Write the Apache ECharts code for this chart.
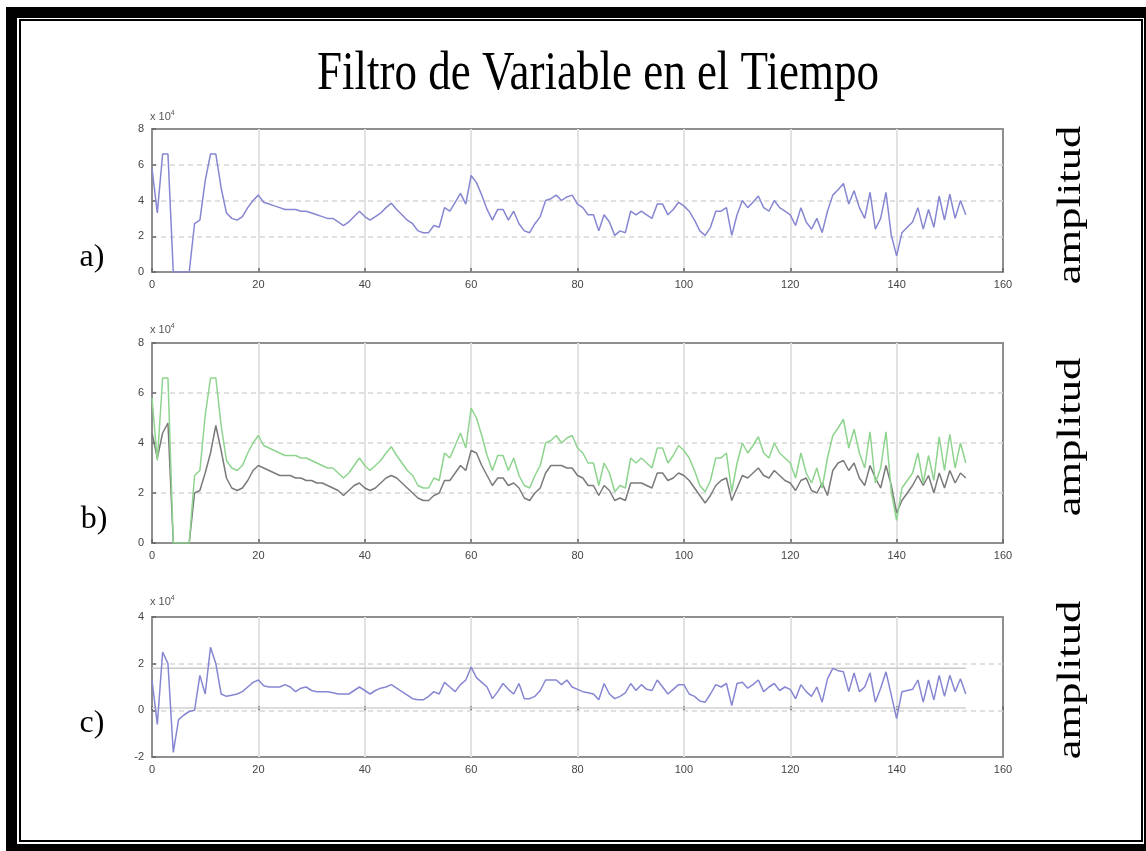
<!DOCTYPE html>
<html>
<head>
<meta charset="utf-8">
<title>Filtro de Variable en el Tiempo</title>
<script src="https://cdn.jsdelivr.net/npm/echarts@6/dist/echarts.min.js"></script>
<style>
  html, body { margin: 0; padding: 0; background: #fff; }
  #main { width: 1146px; height: 851px; }
</style>
</head>
<body>
<div id="main"></div>
<script>
// muestras (x = 0..153), amplitud en unidades de 10^4
var senalA = [
  5.8, 3.3, 6.6, 6.6, 0, 0, 0, 0, 2.7, 2.9,
  5.1, 6.6, 6.6, 4.7, 3.3, 3.0, 2.9, 3.1, 3.6, 4.0,
  4.3, 3.9, 3.8, 3.7, 3.6, 3.5, 3.5, 3.5, 3.4, 3.4,
  3.3, 3.2, 3.1, 3.0, 3.0, 2.8, 2.6, 2.8, 3.1, 3.4,
  3.1, 2.9, 3.1, 3.3, 3.6, 3.85, 3.5, 3.2, 2.9, 2.7,
  2.3, 2.2, 2.2, 2.6, 2.5, 3.6, 3.4, 3.9, 4.4, 3.8,
  5.4, 5.0, 4.3, 3.5, 2.9, 3.5, 3.5, 2.9, 3.4, 2.7,
  2.3, 2.2, 2.7, 3.1, 4.0, 4.1, 4.3, 4.0, 4.2, 4.3,
  3.8, 3.6, 3.2, 3.2, 2.3, 3.2, 2.8, 2.05, 2.3, 2.2,
  3.4, 3.2, 3.4, 3.2, 3.0, 3.8, 3.8, 3.2, 3.5, 3.9,
  3.7, 3.4, 2.9, 2.3, 2.05, 2.5, 3.4, 3.4, 3.6, 2.05,
  3.2, 4.0, 3.6, 3.9, 4.25, 3.6, 3.4, 4.0, 3.6, 3.4,
  3.2, 2.6, 3.6, 2.8, 2.4, 3.0, 2.2, 3.4, 4.3, 4.6,
  4.95, 3.8, 4.55, 3.6, 3.0, 4.45, 2.4, 3.0, 4.45, 2.05,
  0.9, 2.2, 2.5, 2.8, 3.6, 2.4, 3.5, 2.5, 4.25, 2.9,
  4.35, 3.0, 4.0, 3.2
];

var senalFiltrada = [
  4.4, 3.4, 4.4, 4.8, 0, 0, 0, 0, 2.0, 2.1,
  2.8, 3.6, 4.7, 3.7, 2.6, 2.2, 2.1, 2.2, 2.5, 2.9,
  3.1, 3.0, 2.9, 2.8, 2.7, 2.7, 2.7, 2.6, 2.6, 2.5,
  2.5, 2.4, 2.4, 2.3, 2.2, 2.1, 1.9, 2.1, 2.3, 2.4,
  2.2, 2.1, 2.2, 2.4, 2.6, 2.7, 2.6, 2.4, 2.2, 2.0,
  1.8, 1.7, 1.7, 1.9, 2.0, 2.5, 2.5, 2.8, 3.1, 2.9,
  3.7, 3.6, 3.1, 2.7, 2.3, 2.6, 2.6, 2.3, 2.4, 2.2,
  1.8, 1.7, 2.0, 2.2, 2.8, 3.1, 3.1, 3.1, 3.0, 3.0,
  2.7, 2.6, 2.3, 2.3, 1.9, 2.3, 2.1, 1.7, 1.8, 1.7,
  2.4, 2.4, 2.4, 2.3, 2.2, 2.8, 2.8, 2.5, 2.6, 2.8,
  2.7, 2.5, 2.2, 1.9, 1.6, 1.9, 2.3, 2.5, 2.6, 1.7,
  2.2, 2.7, 2.6, 2.8, 3.0, 2.7, 2.6, 2.9, 2.7, 2.5,
  2.4, 2.1, 2.5, 2.6, 2.1, 2.0, 2.4, 1.9, 2.9, 3.2,
  3.3, 2.9, 3.2, 2.6, 2.3, 3.1, 2.6, 2.2, 3.1, 2.3,
  1.2, 1.7, 2.0, 2.3, 2.7, 2.3, 2.7, 2.0, 2.8, 2.2,
  2.9, 2.4, 2.8, 2.6
];

var senalC = [
  1.3, -0.6, 2.5, 2.0, -1.8, -0.4, -0.2, -0.05, 0.0, 1.5,
  0.7, 2.7, 2.0, 0.7, 0.6, 0.65, 0.7, 0.8, 1.0, 1.2,
  1.3, 1.05, 1.0, 1.0, 1.0, 1.1, 1.0, 0.8, 0.95, 1.0,
  0.85, 0.8, 0.8, 0.8, 0.75, 0.7, 0.7, 0.7, 0.85, 1.0,
  0.85, 0.7, 0.85, 0.95, 1.0, 1.1, 0.95, 0.8, 0.65, 0.5,
  0.45, 0.45, 0.6, 0.8, 0.7, 1.2, 1.0, 0.8, 1.1, 1.3,
  1.85, 1.4, 1.2, 1.0, 0.5, 0.8, 1.15, 0.9, 0.7, 1.15,
  0.5, 0.5, 0.6, 0.85, 1.3, 1.3, 1.3, 1.1, 1.3, 1.0,
  0.9, 0.8, 0.75, 0.7, 0.45, 1.15, 0.7, 0.5, 0.6, 0.75,
  1.15, 0.85, 1.1, 0.9, 0.85, 1.3, 1.0, 0.7, 0.9, 1.1,
  1.1, 0.7, 0.6, 0.4, 0.35, 0.7, 1.1, 1.0, 1.15, 0.2,
  1.15, 1.2, 0.95, 1.1, 1.3, 0.8, 1.0, 1.15, 0.85, 1.0,
  0.9, 0.5, 1.1, 0.8, 0.6, 1.0, 0.35, 1.35, 1.8, 1.7,
  1.65, 0.8, 1.6, 0.8, 1.0, 1.6, 0.35, 0.95, 1.65, 0.65,
  -0.35, 0.8, 0.85, 0.9, 1.3, 0.35, 1.3, 0.45, 1.5, 0.6,
  1.5, 0.8, 1.35, 0.7
];

// lineas horizontales de referencia en c)
var umbralSup = [[0, 1.8], [153, 1.8]];
var umbralInf = [[0, 0.1], [153, 0.1]];

function pares(arr) {
    return arr.map(function (v, i) { return [i, v]; });
}

function ejeX(idx) {
    return {
        gridIndex: idx, type: 'value', min: 0, max: 160, interval: 20,
        axisLine: { show: false },
        axisTick: { show: true, inside: true, length: 4, lineStyle: { color: '#666', width: 1.5 } },
        axisLabel: { margin: 7, fontSize: 11, color: '#444', fontFamily: 'Liberation Sans' },
        splitLine: { show: true, showMinLine: false, showMaxLine: false, lineStyle: { color: '#e2e2e2', width: 2, type: 'solid' } }
    };
}

function ejeY(idx, min, max) {
    return {
        gridIndex: idx, type: 'value', min: min, max: max, interval: 2,
        axisLine: { show: false },
        axisTick: { show: true, inside: true, length: 4, lineStyle: { color: '#666', width: 1.5 } },
        axisLabel: { margin: 8, fontSize: 11, color: '#444', fontFamily: 'Liberation Sans' },
        splitLine: { show: true, showMinLine: false, showMaxLine: false, lineStyle: { color: '#d6d6d6', width: 1.5, type: [5, 4] } }
    };
}

function linea(x, y, data, color, w) {
    return {
        type: 'line', xAxisIndex: x, yAxisIndex: y, data: data,
        showSymbol: false, animation: false,
        lineStyle: { color: color, width: w || 1.5 }
    };
}

var serif = 'Liberation Serif';

function etiqueta(x, y, txt, size, rot, sx, sy) {
    return {
        type: 'text', x: x, y: y, rotation: rot || 0, scaleX: sx || 1, scaleY: sy || 1,
        style: {
            text: txt, x: 0, y: 0, fill: '#000',
            font: size + 'px "' + serif + '"',
            align: 'center', verticalAlign: 'middle',
            textAlign: 'center', textVerticalAlign: 'middle'
        }
    };
}

function potencia(x, y) {
    return {
        type: 'text', x: x, y: y,
        style: {
            text: '{a|x 10}{b|4}',
            rich: {
                a: { fontSize: 11, fill: '#555', fontFamily: 'Liberation Sans' },
                b: { fontSize: 7, fill: '#555', fontFamily: 'Liberation Sans', verticalAlign: 'top', padding: [0, 0, 8, 0] }
            },
            verticalAlign: 'middle', textVerticalAlign: 'middle'
        }
    };
}

var caja = { show: true, borderColor: '#8f8f8f', borderWidth: 2, backgroundColor: 'transparent', left: 152, right: 143 };

var option = {
    backgroundColor: '#fff',
    animation: false,
    graphic: [
        { type: 'rect', z: -10, shape: { x: 6, y: 7, width: 1140, height: 844 }, style: { fill: '#000' } },
        { type: 'rect', z: -9, shape: { x: 17, y: 18, width: 1127, height: 826 }, style: { fill: '#fff' } },
        { type: 'rect', z: -8, shape: { x: 19, y: 19, width: 1124, height: 823 }, style: { fill: '#000' } },
        { type: 'rect', z: -7, shape: { x: 21, y: 21, width: 1120, height: 819 }, style: { fill: '#fff' } },
        etiqueta(598, 75, 'Filtro de Variable en el Tiempo', 45, 0, 1, 1.2),
        etiqueta(92, 258, 'a)', 32),
        etiqueta(94, 520, 'b)', 32),
        etiqueta(92, 724, 'c)', 32),
        etiqueta(1071, 205, 'amplitud', 33, Math.PI / 2, 1.35, 1),
        etiqueta(1071, 437, 'amplitud', 33, Math.PI / 2, 1.35, 1),
        etiqueta(1071, 680, 'amplitud', 33, Math.PI / 2, 1.35, 1),
        potencia(150, 117),
        potencia(150, 330),
        potencia(150, 602)
    ],
    grid: [
        Object.assign({ top: 129, height: 143 }, caja),
        Object.assign({ top: 343, height: 200 }, caja),
        Object.assign({ top: 617, height: 140 }, caja)
    ],
    xAxis: [ejeX(0), ejeX(1), ejeX(2)],
    yAxis: [ejeY(0, 0, 8), ejeY(1, 0, 8), ejeY(2, -2, 4)],
    series: [
        linea(0, 0, pares(senalA), '#8686d2'),
        linea(1, 1, pares(senalFiltrada), '#7a7a7a'),
        linea(1, 1, pares(senalA), '#8ed48e'),
        linea(2, 2, umbralSup, '#c8c8c8', 1.5),
        linea(2, 2, umbralInf, '#d0d0d0', 1.5),
        linea(2, 2, pares(senalC), '#8686d2')
    ]
};

echarts.init(document.getElementById('main')).setOption(option);
</script>
</body>
</html>
